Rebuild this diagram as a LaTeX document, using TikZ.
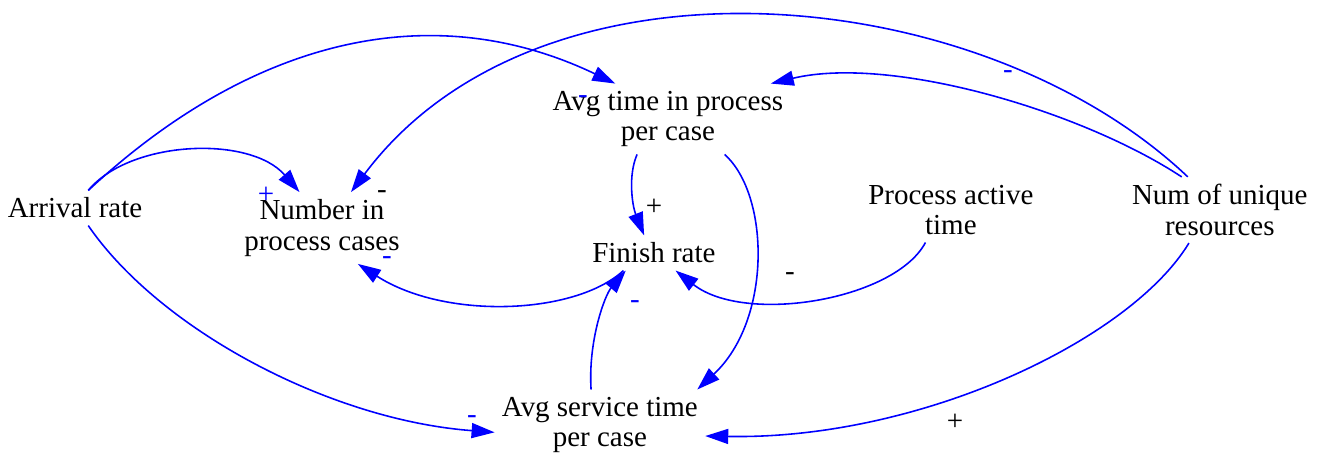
\documentclass[tikz,border=0pt]{standalone}
\usepackage{fontspec}
\setmainfont{Liberation Serif}
\usetikzlibrary{arrows.meta}

\begin{document}
\begin{tikzpicture}[x=0.02cm,y=-0.02cm,
  var/.style={align=center,inner sep=4pt,font=\fontsize{16.5}{17.5}\selectfont},
  link/.style={blue,line width=0.9pt,-{Triangle[length=0.46cm,width=0.3cm]}},
  sgn/.style={inner sep=0pt,font=\fontsize{16.5}{17.5}\selectfont}]

  \useasboundingbox (0,0) rectangle (1327,459);

  \node[var] (arr) at (75,208) {Arrival rate};
  \node[var,right of=arr,xshift=3.94cm,yshift=-0.4cm] (num) {Number in\\process cases};
  \node[var,right of=num,xshift=5.92cm,yshift=2.18cm] (atp) {Avg time in process\\per case};
  \node[var,below of=atp,xshift=-0.28cm,yshift=-1.68cm] (fin) {Finish rate};
  \node[var,below of=fin,xshift=-1.08cm,yshift=-2.44cm] (ast) {Avg service time\\per case};
  \node[var,right of=fin,xshift=4.94cm,yshift=0.86cm] (pat) {Process active\\time};
  \node[var,right of=pat,xshift=4.38cm] (res) {Num of unique\\resources};

  \draw[link] (arr.53) .. controls (250,40) and (430,-5) .. (atp.146);
  \draw[link] (arr.53) .. controls (130,140) and (250,135) .. (num.122);
  \draw[link] (res.134) .. controls (980,-20) and (540,-60) .. (num.51);
  \draw[link] (res.139) .. controls (1080,110) and (890,55) .. (atp.19);
  \draw[link] (atp.229) .. controls (628,175) and (632,205) .. (fin.119);
  \draw[link] (atp.328) .. controls (770,195) and (772,320) .. (ast.20);
  \draw[link] (fin.210) .. controls (575,315) and (445,320) .. (num.315);
  \draw[link] (pat.232) .. controls (895,300) and (745,325) .. (fin.321);
  \draw[link] (ast.104) .. controls (588,340) and (605,295) .. (fin.212);
  \draw[link] (arr.307) .. controls (160,330) and (330,420) .. (ast.184);
  \draw[link] (res.227) .. controls (1130,340) and (920,440) .. (ast.354);

  \node[sgn,blue] (m1) at (583,100) {-};
  \node[sgn,blue] (m2) at (266,195) {+};
  \node[sgn] (m3) at (382,195) {-};
  \node[sgn,blue] (m4) at (1008,75) {-};
  \node[sgn] (m5) at (654,207) {+};
  \node[sgn,blue] (m6) at (387,261) {-};
  \node[sgn] (m7) at (790,277) {-};
  \node[sgn,blue] (m8) at (635,305) {-};
  \node[sgn,blue] (m9) at (472,420) {-};
  \node[sgn] (m10) at (955,422) {+};

\end{tikzpicture}
\end{document}
